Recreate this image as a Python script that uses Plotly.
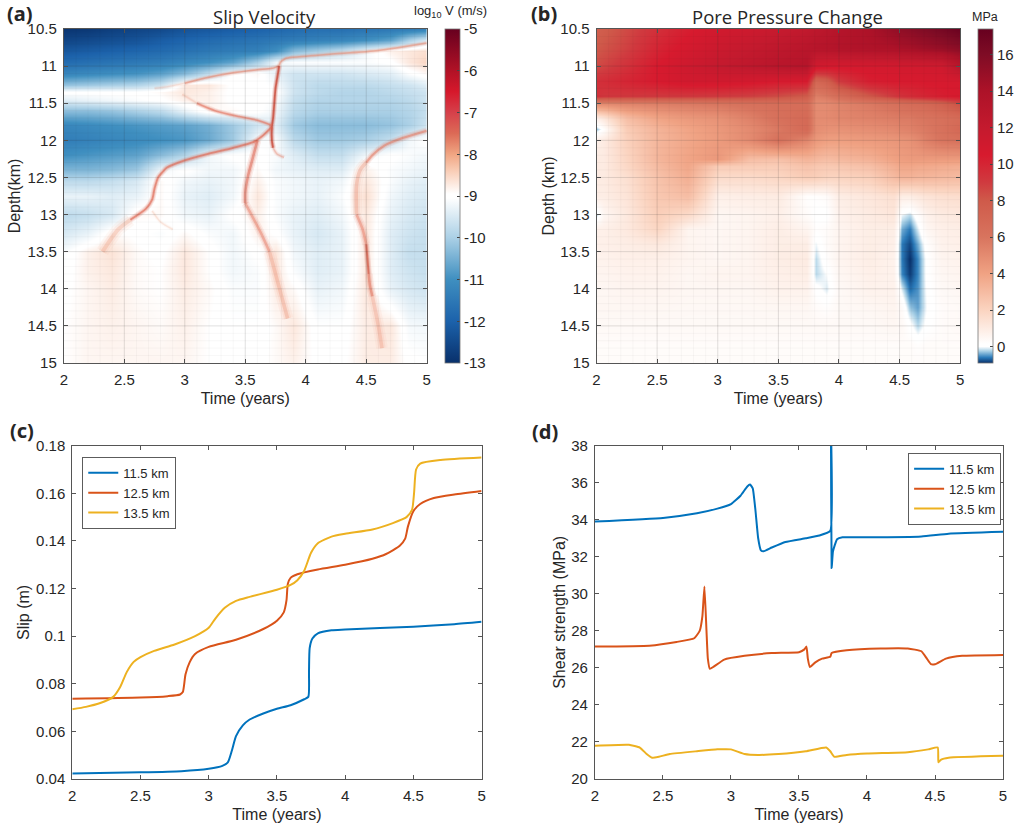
import plotly.graph_objects as go

W, H = 1017, 832
FONT = "Liberation Sans"
TXT = "#262626"

# ---------- panel (a): log10 slip velocity ----------
a_time = [2, 2.2, 2.4, 2.6, 2.8, 3, 3.2, 3.4, 3.6, 3.75, 3.9, 4.1, 4.3, 4.5, 4.7, 4.85, 5]
a_depth = [10.5, 10.65, 10.8, 10.95, 11.1, 11.25, 11.35, 11.45, 11.6, 11.8, 12, 12.2, 12.4,
           12.55, 12.75, 13, 13.25, 13.5, 13.75, 14, 14.5, 15]
a_logv = [
    [-12.9, -12.85, -12.7, -12.6, -12.5, -12.3, -12.2, -12.1, -12.0, -11.9, -11.8, -11.7, -11.7, -11.6, -11.5, -11.4, -11.3],
    [-12.6, -12.5, -12.4, -12.3, -12.1, -11.95, -11.8, -11.7, -11.6, -11.5, -11.4, -11.3, -11.2, -11.0, -10.7, -10.0, -9.5],
    [-12.2, -12.1, -12.0, -11.9, -11.8, -11.65, -11.5, -11.4, -11.3, -11.0, -10.3, -10.0, -9.7, -9.2, -8.8, -8.7, -8.6],
    [-11.8, -11.7, -11.6, -11.5, -11.4, -11.2, -11.0, -10.7, -10.0, -9.2, -9.1, -9.1, -9.1, -9.1, -9.0, -8.7, -8.5],
    [-11.2, -11.1, -11.0, -10.9, -10.7, -10.3, -9.7, -9.0, -8.9, -9.3, -9.6, -9.6, -9.6, -9.5, -9.4, -9.1, -8.9],
    [-10.2, -10.1, -10.0, -9.9, -9.6, -8.7, -8.7, -9.0, -9.0, -9.1, -9.6, -9.8, -9.8, -9.8, -9.7, -9.6, -9.4],
    [-9.0, -9.0, -9.0, -9.0, -8.9, -8.7, -8.8, -9.0, -9.0, -9.0, -9.6, -9.8, -9.9, -9.9, -9.8, -9.7, -9.6],
    [-9.4, -9.3, -9.2, -9.1, -9.0, -8.8, -8.8, -9.0, -9.0, -9.1, -9.7, -9.9, -9.9, -9.9, -9.9, -9.8, -9.6],
    [-10.3, -10.3, -10.2, -10.0, -9.8, -9.3, -8.9, -8.9, -9.0, -9.2, -9.8, -10.0, -10.0, -10.0, -10.0, -9.9, -9.7],
    [-11.2, -11.1, -11.0, -10.9, -10.8, -10.7, -10.5, -10.1, -9.6, -9.4, -10.1, -10.3, -10.3, -10.3, -10.2, -10.0, -9.6],
    [-11.4, -11.3, -11.2, -11.1, -11.0, -10.9, -10.6, -10.1, -9.1, -9.1, -9.8, -10.1, -10.1, -10.0, -9.7, -9.2, -9.0],
    [-11.0, -10.9, -10.8, -10.7, -10.3, -9.9, -9.2, -9.0, -9.0, -9.1, -9.4, -9.7, -9.7, -9.2, -9.0, -9.1, -9.2],
    [-10.4, -10.4, -10.3, -10.1, -9.2, -9.0, -9.2, -9.2, -8.9, -9.2, -9.3, -9.4, -9.4, -8.8, -9.1, -9.2, -9.3],
    [-9.8, -9.8, -9.7, -9.5, -8.9, -9.2, -9.3, -9.2, -8.8, -9.1, -9.2, -9.3, -9.2, -8.7, -9.1, -9.3, -9.4],
    [-9.3, -9.3, -9.4, -9.3, -8.9, -9.3, -9.4, -9.2, -8.7, -9.1, -9.2, -9.3, -9.1, -8.6, -9.2, -9.4, -9.5],
    [-9.8, -9.7, -9.5, -8.9, -8.9, -9.2, -9.3, -9.0, -8.8, -9.1, -9.3, -9.4, -9.2, -8.7, -9.3, -9.5, -9.6],
    [-9.5, -9.3, -8.9, -9.0, -9.1, -8.9, -9.1, -9.2, -8.8, -9.0, -9.3, -9.5, -9.3, -8.7, -9.4, -9.6, -9.7],
    [-9.1, -8.8, -8.65, -8.9, -9.0, -8.7, -8.95, -9.2, -9.0, -8.7, -9.2, -9.4, -9.3, -8.7, -9.4, -9.7, -9.7],
    [-9.05, -8.8, -8.7, -8.9, -8.95, -8.7, -8.95, -9.2, -9.1, -8.7, -9.1, -9.4, -9.3, -8.7, -9.4, -9.6, -9.7],
    [-9.0, -8.85, -8.75, -8.9, -8.95, -8.75, -8.9, -9.1, -9.1, -8.75, -8.9, -9.3, -9.2, -8.7, -9.3, -9.5, -9.6],
    [-8.95, -8.85, -8.8, -8.85, -8.9, -8.8, -8.95, -9.05, -9.05, -8.9, -8.7, -9.05, -9.05, -8.75, -8.7, -9.15, -9.2],
    [-8.95, -8.85, -8.85, -8.85, -8.85, -8.85, -8.95, -9.0, -9.0, -8.9, -8.8, -9.0, -9.0, -8.75, -8.75, -9.0, -9.05],
]
a_ticks = [-13, -12, -11, -10, -9, -8, -7, -6, -5]
a_ticktext = ["-13", "-12", "-11", "-10", "-9", "-8", "-7", "-6", "-5"]

# velocity fronts (time, depth)
front_top0_t = [2.75, 2.85, 3.0]
front_top0_d = [11.3, 11.28, 11.23]
front_top_t = [3.0, 3.2, 3.4, 3.6, 3.72, 3.78]
front_top_d = [11.23, 11.15, 11.09, 11.05, 11.03, 11.0]
front_right_t = [3.78, 3.79, 3.83, 3.9, 4.2, 4.6, 5]
front_right_d = [11.0, 10.95, 10.9, 10.88, 10.84, 10.79, 10.69]
front_vert_t = [3.78, 3.77, 3.75, 3.74, 3.73, 3.72, 3.72, 3.73]
front_vert_d = [11.0, 11.1, 11.3, 11.5, 11.7, 11.82, 12, 12.1]
front_tail_t = [3.73, 3.76, 3.82]
front_tail_d = [12.1, 12.18, 12.23]
front_upper0_t = [2.98, 3.1]
front_upper0_d = [11.38, 11.5]
front_upper_t = [3.1, 3.25, 3.45, 3.6, 3.72]
front_upper_d = [11.5, 11.6, 11.68, 11.73, 11.8]
front_lower_t = [3.72, 3.65, 3.57, 3.4, 3.2, 3.0, 2.85, 2.82, 2.78, 2.75, 2.73, 2.68, 2.55]
front_lower_d = [11.82, 11.93, 12.02, 12.1, 12.18, 12.27, 12.37, 12.42, 12.5, 12.65, 12.8, 12.92, 13.07]
front_lowend_t = [2.55, 2.45, 2.38, 2.32]
front_lowend_d = [13.07, 13.2, 13.35, 13.5]
front_mid1_t = [3.6, 3.56, 3.52, 3.5, 3.5]
front_mid1_d = [12.0, 12.25, 12.5, 12.7, 12.85]
front_mid2_t = [3.5, 3.55, 3.63, 3.7]
front_mid2_d = [12.85, 13, 13.25, 13.5]
front_mid3_t = [3.7, 3.75, 3.8, 3.85]
front_mid3_d = [13.5, 13.8, 14.1, 14.4]
front_far1_t = [5, 4.8, 4.65, 4.55, 4.5]
front_far1_d = [11.87, 11.97, 12.07, 12.2, 12.3]
front_far2_t = [4.5, 4.45, 4.42, 4.42]
front_far2_d = [12.3, 12.4, 12.6, 13.0]
front_far3_t = [4.42, 4.47, 4.5]
front_far3_d = [13.0, 13.2, 13.4]
front_far4_t = [4.5, 4.51, 4.52]
front_far4_d = [13.4, 13.6, 13.8]
front_far4b_t = [4.52, 4.53, 4.55]
front_far4b_d = [13.8, 13.95, 14.1]
front_far5_t = [4.55, 4.6, 4.63]
front_far5_d = [14.1, 14.5, 14.8]
front_small_t = [2.73, 2.8, 2.9]
front_small_d = [12.95, 13.1, 13.2]

# ---------- panel (b): pore pressure change ----------
b_time = [2, 2.06, 2.25, 2.5, 2.75, 3, 3.25, 3.5, 3.73, 3.81, 3.9, 4, 4.25, 4.45, 4.52, 4.58, 4.65, 4.72, 4.85, 5]
b_depth = [10.5, 10.75, 11, 11.2, 11.4, 11.5, 11.7, 11.85, 12, 12.25, 12.35, 12.5, 12.75, 13, 13.2, 13.4, 13.6, 13.8, 14, 14.25, 14.5, 14.75, 15]
b_pressure = [
    [7.5, 7.8, 8.5, 9.5, 10.3, 11, 11.3, 11.8, 12.3, 12.6, 12.9, 13.3, 14, 15, 15.3, 15.5, 15.8, 16, 16.5, 17.2],
    [8, 8.2, 8.8, 10, 10.8, 11.5, 12, 12.5, 13, 13.2, 13.3, 13.5, 13.8, 14, 14.2, 14.3, 14.5, 14.7, 15, 15.5],
    [8.5, 8.7, 9.4, 10.5, 11.3, 12, 12.5, 13, 13.3, 11, 10.8, 10.7, 10.8, 10.9, 11, 11, 11, 11.1, 11.2, 13],
    [9.5, 9.6, 10, 10.5, 11, 11, 10.8, 10.5, 10.5, 7, 7.5, 9, 10.3, 10.5, 10.5, 10.5, 10.5, 10.6, 10.6, 10.7],
    [9.4, 9.2, 9.1, 9.1, 9.1, 9, 8.8, 8.4, 7.8, 5.5, 5.8, 6.5, 8, 9, 9.4, 9.6, 9.8, 10, 10.3, 10.6],
    [5.2, 5.2, 5.4, 5.6, 5.8, 6, 6.3, 6.5, 6.5, 5, 5, 5.3, 5.8, 6.3, 6.5, 6.7, 6.8, 7, 7.5, 8.5],
    [0.8, 1.2, 2.9, 3.9, 4.4, 4.7, 5.4, 6.3, 6.8, 5, 5, 5.2, 5.4, 5.6, 5.7, 5.7, 5.9, 6, 6.3, 6.7],
    [-0.3, 0.2, 2.3, 3.3, 3.9, 4.4, 5, 5.8, 6.8, 4.9, 4.7, 4.7, 4.9, 5.1, 5.3, 5.4, 5.6, 5.8, 6.2, 6.9],
    [0.8, 1, 2.1, 3.2, 3.8, 4.3, 5, 6.2, 5.2, 4.4, 4.1, 4.1, 4.3, 4.5, 4.6, 4.7, 5, 5.5, 6, 6.2],
    [1, 1, 1.9, 3.2, 3.9, 4.4, 2.9, 2.8, 3.3, 3.1, 2.9, 3.1, 3.4, 4, 4.2, 4.3, 4.3, 4.3, 4.3, 4.3],
    [1, 1, 1.8, 3, 3.8, 2.3, 2.3, 2.3, 2.7, 2.5, 2.4, 2.5, 2.8, 3.5, 3.8, 3.8, 3.7, 3.7, 3.6, 3.5],
    [1, 1, 1.5, 2.7, 3.5, 1.7, 1.7, 1.9, 2.3, 2.2, 2, 2, 2.2, 3, 3.3, 3.3, 3.2, 3.2, 3.1, 3],
    [0.9, 0.9, 1.3, 2.5, 2.9, 0.8, 0.9, 1, 0.2, 0.2, 0.3, 0.9, 1.2, 1.5, 0.9, 0.9, 1.1, 1.3, 1.5, 1.6],
    [-0.15, 0.5, 1.1, 2.2, 1.7, 0.5, 0.6, 0.8, 0.3, 0.1, 0.1, 0.7, 1, 1.2, -0.05, -0.2, 0.2, 0.7, 1, 1.1],
    [0.8, 0.8, 1.1, 1.9, 0.6, 0.5, 0.6, 0.9, 0.6, 0.2, 0.3, 0.6, 0.9, 0.9, -0.4, -0.6, -0.1, 0.5, 0.8, 0.9],
    [0.8, 0.8, 0.9, 1.1, 0.6, 0.5, 0.6, 0.9, 0.9, -0.05, 0.3, 0.6, 0.9, 0.8, -0.6, -0.8, -0.4, 0.2, 0.7, 0.8],
    [0.7, 0.7, 0.8, 0.8, 0.6, 0.5, 0.6, 0.9, 1, -0.2, 0.2, 0.6, 0.9, 0.7, -0.6, -0.9, -0.55, 0.1, 0.6, 0.7],
    [0.6, 0.6, 0.7, 0.7, 0.5, 0.6, 0.6, 0.8, 0.9, -0.2, 0, 0.5, 0.8, 0.7, -0.55, -0.85, -0.55, 0.1, 0.5, 0.6],
    [0.5, 0.5, 0.6, 0.6, 0.5, 0.5, 0.5, 0.7, 0.7, 0.1, -0.1, 0.4, 0.7, 0.7, -0.1, -0.65, -0.5, 0.05, 0.4, 0.5],
    [0.5, 0.5, 0.5, 0.5, 0.45, 0.45, 0.45, 0.5, 0.5, 0.3, 0.2, 0.4, 0.5, 0.6, 0.3, -0.3, -0.45, 0.0, 0.3, 0.4],
    [0.4, 0.4, 0.4, 0.4, 0.4, 0.4, 0.4, 0.4, 0.4, 0.4, 0.4, 0.4, 0.4, 0.5, 0.4, 0.1, -0.2, 0.1, 0.3, 0.4],
    [0.3, 0.3, 0.3, 0.3, 0.3, 0.3, 0.3, 0.3, 0.3, 0.3, 0.3, 0.3, 0.3, 0.3, 0.3, 0.3, 0.2, 0.3, 0.3, 0.3],
    [0.3, 0.3, 0.3, 0.3, 0.3, 0.3, 0.3, 0.3, 0.3, 0.3, 0.3, 0.3, 0.3, 0.3, 0.3, 0.3, 0.3, 0.3, 0.3, 0.3],
]
b_ticks = [0, 2, 4, 6, 8, 10, 12, 14, 16]

# ---------- panel (c): slip ----------
c1_t = [2, 2.5, 2.8, 3, 3.1, 3.14, 3.17, 3.2, 3.25, 3.3, 3.4, 3.5, 3.6, 3.7, 3.73, 3.735, 3.74, 3.76, 3.8, 3.9, 4, 4.5, 4.8, 5]
c1_v = [.0423, .0428, .0433, .0443, .0455, .047, .052, .058, .0625, .065, .0675, .0695, .071, .0735, .0745, .085, .095, .099, .1012, .1025, .1028, .104, .105, .106]
c2_t = [2, 2.5, 2.7, 2.79, 2.81, 2.83, 2.86, 2.9, 3, 3.2, 3.4, 3.5, 3.55, 3.57, 3.58, 3.6, 3.65, 3.8, 4, 4.2, 4.3, 4.4, 4.44, 4.46, 4.5, 4.55, 4.65, 4.8, 5]
c2_v = [.0737, .0742, .0748, .0755, .0765, .084, .089, .0925, .0955, .0985, .103, .1065, .11, .115, .122, .1245, .126, .128, .13, .1325, .1345, .138, .141, .146, .1525, .1555, .158, .1595, .161]
c3_t = [2, 2.1, 2.2, 2.3, 2.35, 2.4, 2.45, 2.5, 2.6, 2.75, 2.9, 3, 3.05, 3.12, 3.2, 3.3, 3.5, 3.6, 3.65, 3.7, 3.75, 3.8, 3.9, 4, 4.2, 4.35, 4.45, 4.49, 4.505, 4.52, 4.55, 4.7, 5]
c3_v = [.0693, .0703, .0718, .0745, .0785, .085, .0892, .0912, .0938, .0965, .1, .1035, .1075, .112, .1148, .1165, .1195, .1215, .1235, .1275, .135, .139, .1418, .143, .1448, .1475, .15, .153, .16, .17, .1725, .174, .175]

# ---------- panel (d): shear strength ----------
d1_t = [2, 2.5, 2.75, 2.9, 3, 3.07, 3.12, 3.14, 3.16, 3.18, 3.2, 3.22, 3.24, 3.3, 3.4, 3.55, 3.65, 3.73, 3.735, 3.74, 3.75, 3.78, 3.82, 4, 4.4, 4.6, 5]
d1_v = [33.9, 34.1, 34.35, 34.6, 34.85, 35.3, 35.8, 35.9, 35.7, 34.5, 33, 32.35, 32.3, 32.5, 32.8, 33, 33.15, 33.4, 39, 31.4, 32.3, 32.95, 33.05, 33.05, 33.1, 33.25, 33.35]
d2_t = [2, 2.4, 2.6, 2.73, 2.77, 2.79, 2.805, 2.82, 2.83, 2.845, 2.87, 2.95, 3.1, 3.3, 3.5, 3.54, 3.555, 3.565, 3.58, 3.62, 3.67, 3.73, 3.74, 3.85, 4.1, 4.3, 4.4, 4.44, 4.47, 4.5, 4.58, 4.7, 5]
d2_v = [27.15, 27.2, 27.4, 27.6, 28, 28.8, 30.4, 28, 26.5, 25.95, 26.05, 26.45, 26.65, 26.8, 26.85, 27, 27.15, 26.5, 26.05, 26.3, 26.5, 26.6, 26.8, 26.95, 27.05, 27.05, 26.9, 26.5, 26.2, 26.2, 26.5, 26.65, 26.7]
d3_t = [2, 2.25, 2.33, 2.38, 2.42, 2.47, 2.55, 2.75, 2.9, 3, 3.1, 3.2, 3.35, 3.55, 3.7, 3.73, 3.76, 3.85, 4, 4.3, 4.45, 4.52, 4.525, 4.545, 4.6, 5]
d3_v = [21.8, 21.85, 21.7, 21.35, 21.15, 21.2, 21.35, 21.5, 21.6, 21.6, 21.35, 21.3, 21.35, 21.5, 21.7, 21.5, 21.2, 21.3, 21.38, 21.45, 21.6, 21.7, 20.9, 21.05, 21.15, 21.25]

series_names = ["11.5 km", "12.5 km", "13.5 km"]
series_colors = ["#0072BD", "#D95319", "#EDB120"]

# ---------- colour scales ----------
def scale(zmin, zmax, stops):
    return [[(v - zmin) / (zmax - zmin), c] for v, c in stops]

a_scale = scale(-13, -5, [(-13, "#08306b"), (-12, "#1c62ab"), (-11, "#3f8fc0"), (-10, "#abd0e6"),
                          (-9.05, "#ffffff"), (-8.95, "#ffffff"), (-8.4, "#f9cdb6"), (-8, "#f0a582"),
                          (-7.5, "#dc6a56"), (-7, "#d6404a"), (-6.5, "#d6182b"), (-6, "#b11226"), (-5, "#67001f")])
b_scale = scale(-0.9, 17.4, [(-0.9, "#08306b"), (-0.6, "#2b7bba"), (-0.25, "#a8d0e6"), (0, "#ffffff"),
                             (0.15, "#ffffff"), (2, "#fbd4c0"), (4, "#f0a283"), (6, "#d8745e"), (8, "#cf5a4a"),
                             (9, "#d03a3f"), (10.5, "#d71a2e"), (12, "#c41a2e"), (14, "#ad1228"), (16, "#7f0c25"), (17.4, "#67001f")])

# ---------- layout helpers (pixel boxes of the four axes) ----------
boxes = {"a": (64, 428, 29, 363), "b": (598.3, 963, 29, 363),
         "c": (72.5, 483, 445.7, 779), "d": (596.7, 1006, 445.7, 779)}

def dom(box):
    x0, x1, y0, y1 = box
    return [x0 / W, x1 / W], [1 - y1 / H, 1 - y0 / H]

fig = go.Figure()

fig.add_trace(go.Heatmap(
    x=a_time, y=a_depth, z=a_logv, zmin=-13, zmax=-5, colorscale=a_scale, zsmooth="best",
    xaxis="x", yaxis="y", hoverinfo="skip",
    colorbar=dict(x=446 / W, xanchor="left", xpad=0, y=1 - 29 / H, yanchor="top", ypad=0, len=334 / H, lenmode="fraction",
                  thickness=15, thicknessmode="pixels", tickvals=a_ticks, ticktext=a_ticktext, ticks="inside",
                  ticklen=3, tickcolor="#444", tickfont=dict(family=FONT, size=15, color=TXT),
                  outlinecolor="#777", outlinewidth=0.8),
))
fig.add_trace(go.Heatmap(
    x=b_time, y=b_depth, z=b_pressure, zmin=-0.9, zmax=17.4, colorscale=b_scale, zsmooth="best",
    xaxis="x2", yaxis="y2", hoverinfo="skip",
    colorbar=dict(x=980.7 / W, xanchor="left", xpad=0, y=1 - 29 / H, yanchor="top", ypad=0, len=334 / H, lenmode="fraction",
                  thickness=15, thicknessmode="pixels", tickvals=b_ticks, ticks="inside",
                  ticklen=3, tickcolor="#444", tickfont=dict(family=FONT, size=15, color=TXT),
                  outlinecolor="#777", outlinewidth=0.8),
))

# (time, depth, core width, core opacity, red, green, blue)
ridges = [
    (front_top0_t, front_top0_d, 1.4, 0.2, 235, 150, 125),
    (front_top_t, front_top_d, 1.5, 0.5, 228, 125, 100),
    (front_right_t, front_right_d, 1.5, 0.5, 232, 135, 110),
    (front_vert_t, front_vert_d, 1.7, 0.75, 200, 70, 52),
    (front_tail_t, front_tail_d, 1.5, 0.35, 230, 130, 105),
    (front_upper0_t, front_upper0_d, 1.5, 0.2, 235, 150, 125),
    (front_upper_t, front_upper_d, 1.6, 0.55, 225, 110, 88),
    (front_lower_t, front_lower_d, 1.8, 0.6, 222, 100, 78),
    (front_lowend_t, front_lowend_d, 4, 0.28, 238, 150, 120),
    (front_mid1_t, front_mid1_d, 2.5, 0.5, 220, 95, 75),
    (front_mid2_t, front_mid2_d, 2.5, 0.42, 228, 115, 90),
    (front_mid3_t, front_mid3_d, 3.6, 0.3, 236, 140, 110),
    (front_far1_t, front_far1_d, 2.1, 0.5, 228, 115, 90),
    (front_far2_t, front_far2_d, 3.6, 0.3, 232, 130, 100),
    (front_far3_t, front_far3_d, 2.6, 0.42, 228, 115, 90),
    (front_far4_t, front_far4_d, 1.9, 0.68, 208, 85, 65),
    (front_far4b_t, front_far4b_d, 2.5, 0.5, 222, 105, 82),
    (front_far5_t, front_far5_d, 3.6, 0.28, 236, 140, 110),
    (front_small_t, front_small_d, 1.2, 0.2, 240, 170, 140),
]
for rt, rd, w, alpha, r, g, b in ridges:
    for mult, al in ((3.2, alpha * 0.25), (2, alpha * 0.4), (1, alpha)):
        fig.add_trace(go.Scatter(x=rt, y=rd, mode="lines",
                                 line=dict(color=f"rgba({r},{g},{b},{al:.3f})", width=w * mult, shape="spline", smoothing=0.7),
                                 xaxis="x", yaxis="y", showlegend=False, hoverinfo="skip"))

for name, col, t, v in zip(series_names, series_colors, [c1_t, c2_t, c3_t], [c1_v, c2_v, c3_v]):
    fig.add_trace(go.Scatter(x=t, y=v, mode="lines", name=name, line=dict(color=col, width=2, shape="spline", smoothing=0.6),
                             xaxis="x3", yaxis="y3", legend="legend"))
for name, col, t, v in zip(series_names, series_colors, [d1_t, d2_t, d3_t], [d1_v, d2_v, d3_v]):
    fig.add_trace(go.Scatter(x=t, y=v, mode="lines", name=name, line=dict(color=col, width=2, shape="spline", smoothing=0.4),
                             xaxis="x4", yaxis="y4", legend="legend2"))

def axis(domain, title, standoff, **kw):
    return dict(domain=domain, title=dict(text=title, standoff=standoff, font=dict(family=FONT, size=16, color=TXT)),
                showgrid=False, zeroline=False, showline=True, mirror="ticks", linecolor="#555", linewidth=1,
                ticks="inside", ticklen=4, tickcolor="#555", tickwidth=1, ticklabelstandoff=3,
                tickfont=dict(family=FONT, size=15, color=TXT), automargin=False, **kw)

xa, ya = dom(boxes["a"])
xb, yb = dom(boxes["b"])
xc, yc = dom(boxes["c"])
xd, yd = dom(boxes["d"])

layout = dict(
    width=W, height=H, margin=dict(l=0, r=0, t=0, b=0), paper_bgcolor="white", plot_bgcolor="white",
    font=dict(family=FONT, color=TXT),
    xaxis=axis(xa, "Time (years)", 5, anchor="y", range=[2, 5], tick0=2, dtick=0.5),
    yaxis=axis(ya, "Depth(km)", 3, anchor="x", range=[15, 10.5], tick0=10.5, dtick=0.5),
    xaxis2=axis(xb, "Time (years)", 5, anchor="y2", range=[2, 5], tick0=2, dtick=0.5),
    yaxis2=axis(yb, "Depth (km)", 1, anchor="x2", range=[15, 10.5], tick0=10.5, dtick=0.5),
    xaxis3=axis(xc, "Time (years)", 5, anchor="y3", range=[2, 5], tick0=2, dtick=0.5),
    yaxis3=axis(yc, "Slip (m)", 2, anchor="x3", range=[0.04, 0.18], tick0=0.04, dtick=0.02),
    xaxis4=axis(xd, "Time (years)", 5, anchor="y4", range=[2, 5], tick0=2, dtick=0.5),
    yaxis4=axis(yd, "Shear strength (MPa)", 1, anchor="x4", range=[20, 38], tick0=20, dtick=2),
    legend=dict(x=82.7 / W, y=1 - 457 / H, xanchor="left", yanchor="top", bgcolor="white", bordercolor="#333", borderwidth=0.8,
                font=dict(family=FONT, size=13, color=TXT), tracegroupgap=0, itemwidth=30,
                entrywidth=45, entrywidthmode="pixels"),
    legend2=dict(x=911 / W, y=1 - 453 / H, xanchor="left", yanchor="top", bgcolor="white", bordercolor="#333", borderwidth=0.8,
                 font=dict(family=FONT, size=13, color=TXT), tracegroupgap=0, itemwidth=30,
                 entrywidth=45, entrywidthmode="pixels"),
    showlegend=True,
)
fig.update_layout(**layout)

# faint grid drawn over the images
def grid_path(xs, ys):
    p = []
    for x in xs:
        p.append(f"M {x} 10.5 L {x} 15")
    for y in ys:
        p.append(f"M 2 {y} L 5 {y}")
    return " ".join(p)

major_x = [2.5, 3, 3.5, 4, 4.5]
major_y = [11, 11.5, 12, 12.5, 13, 13.5, 14, 14.5]
minor_x = [2 + i / 10 for i in range(1, 30)]
minor_y = [10.5 + i / 10 for i in range(1, 45)]
for xr, yr in (("x", "y"), ("x2", "y2")):
    fig.add_shape(type="path", path=grid_path(major_x, major_y), xref=xr, yref=yr,
                  line=dict(color="rgba(60,60,60,0.12)", width=1), layer="above")
    fig.add_shape(type="path", path=grid_path(minor_x, minor_y), xref=xr, yref=yr,
                  line=dict(color="rgba(60,60,60,0.035)", width=1), layer="above")

def note(text, px, py, size, family=FONT, bold=False, color=TXT, anchor="center"):
    fig.add_annotation(text=f"<b>{text}</b>" if bold else text, x=px / W, y=1 - py / H, xref="paper", yref="paper",
                       showarrow=False, xanchor=anchor, yanchor="middle",
                       font=dict(family=family, size=size, color=color))

note("Slip Velocity", 265, 16, 18.5, "Open Sans")
note("Pore Pressure Change", 790, 16, 18.5, "Open Sans")
note("log<sub>10</sub> V (m/s)", 452, 12, 13)
note("MPa", 988, 17, 12.5)
note("(a)", 20, 13, 20, "Noto Sans", True)
note("(b)", 546, 13, 20, "Noto Sans", True)
note("(c)", 22, 430, 20, "Noto Sans", True)
note("(d)", 547, 431, 20, "Noto Sans", True)

fig.write_html("out.html", config={"displayModeBar": False},
               post_script="document.body.style.margin='0';")
